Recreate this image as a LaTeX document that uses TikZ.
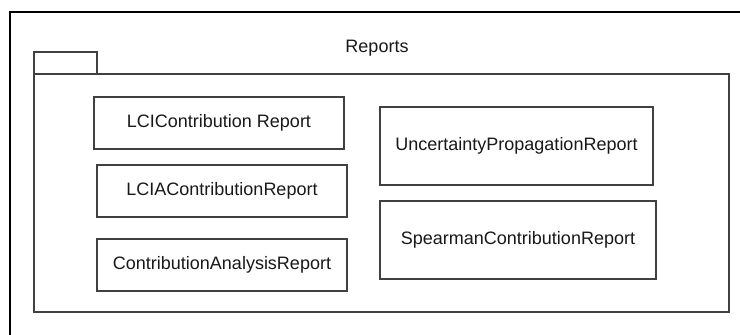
\documentclass[tikz,border=0pt]{standalone}
\usepackage{fontspec}
\setmainfont{Liberation Sans}
\begin{document}
\begin{tikzpicture}[x=0.75pt,y=-0.75pt,
  every node/.style={inner sep=0pt,outer sep=0pt},
  frameline/.style={line width=1.9pt,draw=black},
  pkgbox/.style={draw=black!75,line width=1.1pt,rectangle},
  classbox/.style={draw=black!75,line width=1.1pt,rectangle,fill=white,
                   font=\fontsize{13.5pt}{16pt}\selectfont,text=black!90},
  titletext/.style={font=\fontsize{13.5pt}{16pt}\selectfont,text=black!90}]
\useasboundingbox (0,0) rectangle (740,335);

% outer diagram frame (runs off the right and bottom edges)
\coordinate (fbl) at (10,340);
\coordinate (ftl) at (10,12);
\coordinate (ftr) at (745,12);
\draw[frameline] (fbl) -- (ftl) -- (ftr);

% package: tab and body
\node[pkgbox,minimum width=47.25pt,minimum height=16.5pt] (tab) at (65.5,63) {};
\node[pkgbox,minimum width=521.25pt,minimum height=178.5pt] (body) at (381.5,193) {};
\node[titletext] (title) at (377,48) {Reports};

% classes inside the package
\node[classbox,minimum width=187.5pt,minimum height=39pt] (lci) at (219,123) {LCIContribution Report};
\node[classbox,minimum width=187.5pt,minimum height=39pt] (lcia) at (222,191) {LCIAContributionReport};
\node[classbox,minimum width=187.5pt,minimum height=39pt] (car) at (222,265) {ContributionAnalysisReport};
\node[classbox,minimum width=204.75pt,minimum height=58.5pt] (upr) at (516.5,146) {UncertaintyPropagationReport};
\node[classbox,minimum width=207pt,minimum height=58.5pt] (scr) at (518,240) {SpearmanContributionReport};
\end{tikzpicture}
\end{document}
